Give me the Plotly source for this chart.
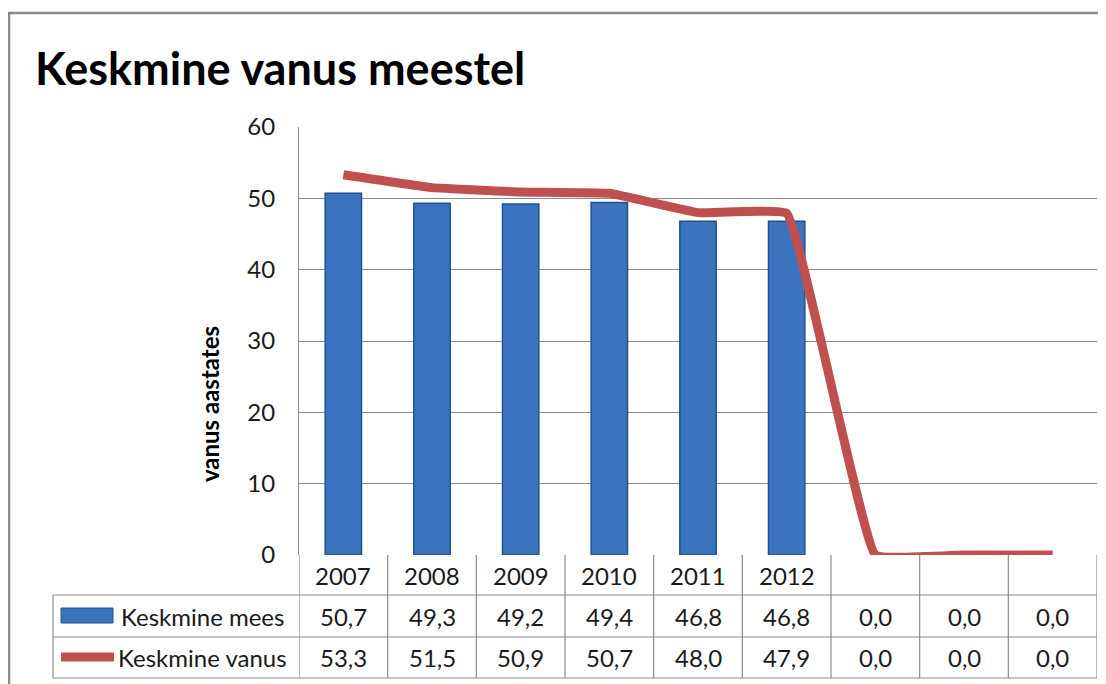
import plotly.graph_objects as go

years = ['2007', '2008', '2009', '2010', '2011', '2012', '', '', '']
keskmine_mees = [50.7, 49.3, 49.2, 49.4, 46.8, 46.8, 0.0, 0.0, 0.0]
keskmine_vanus = [53.3, 51.5, 50.9, 50.7, 48.0, 47.9, 0.0, 0.0, 0.0]
series_names = ['Keskmine mees', 'Keskmine vanus']
y_ticks = [0, 10, 20, 30, 40, 50, 60]

W, H = 1106, 684
OFF = 8  # page body margin offsets the figure
FONT = "Lato"
BAR_COLOR = '#3A74BF'
LINE_COLOR = '#C0504D'
GRID = '#8C8C8C'


def px_x(p):
    return (p - OFF) / W


def px_y(p):
    return 1 - (p - OFF) / H


xs = list(range(len(years)))

fig = go.Figure()
fig.add_trace(go.Bar(
    x=xs, y=keskmine_mees, width=0.41,
    marker=dict(color=BAR_COLOR,
                line=dict(color='#22508C', width=[1.5 if v else 0 for v in keskmine_mees])),
    name=series_names[0],
))
fig.add_trace(go.Scatter(
    x=xs, y=keskmine_vanus, mode='lines',
    line=dict(color=LINE_COLOR, width=9, shape='spline', smoothing=0.25),
    cliponaxis=False, name=series_names[1],
))

# table rows (pixel positions)
row_lines = [555, 595, 637, 678]
row_centers = [(row_lines[i] + row_lines[i + 1]) / 2 for i in range(3)]

shapes = []
# outer chart border
shapes.append(dict(type='rect', xref='paper', yref='paper',
                   x0=px_x(9), x1=1.05, y0=px_y(13), y1=-0.05,
                   line=dict(color='#8A8A8A', width=2.5)))
# horizontal table lines
for yy in row_lines[1:]:
    shapes.append(dict(type='line', xref='paper', yref='paper',
                       x0=px_x(53), x1=px_x(1097), y0=px_y(yy), y1=px_y(yy),
                       line=dict(color=GRID, width=1.2)))
# vertical table lines at category boundaries
for i in range(len(years) + 1):
    shapes.append(dict(type='line', xref='x', yref='paper',
                       x0=i - 0.5, x1=i - 0.5, y0=px_y(row_lines[0]), y1=px_y(row_lines[-1]),
                       line=dict(color=GRID, width=1.2)))
# legend column left edge
shapes.append(dict(type='line', xref='paper', yref='paper',
                   x0=px_x(53), x1=px_x(53), y0=px_y(row_lines[1]), y1=px_y(row_lines[-1]),
                   line=dict(color=GRID, width=1.2)))
# legend keys
shapes.append(dict(type='rect', xref='paper', yref='paper',
                   x0=px_x(61), x1=px_x(113), y0=px_y(608), y1=px_y(623),
                   fillcolor=BAR_COLOR, line=dict(color='#22508C', width=1)))
shapes.append(dict(type='line', xref='paper', yref='paper',
                   x0=px_x(61), x1=px_x(114), y0=px_y(657), y1=px_y(657),
                   line=dict(color=LINE_COLOR, width=9)))

annotations = []
tfont = dict(family=FONT, size=24, color='#1a1a1a')
for i, yr in enumerate(years):
    annotations.append(dict(x=i, y=px_y(row_centers[0]), xref='x', yref='paper',
                            yanchor='middle', text=yr, showarrow=False, font=tfont))
for r, vals in enumerate([keskmine_mees, keskmine_vanus]):
    for i, v in enumerate(vals):
        annotations.append(dict(x=i, y=px_y(row_centers[r + 1]), xref='x', yref='paper',
                                yanchor='middle', text=f"{v:.1f}".replace('.', ','),
                                showarrow=False, font=tfont))
annotations.append(dict(x=px_x(119), y=px_y(row_centers[1]), xref='paper', yref='paper',
                        xanchor='left', yanchor='middle', text=series_names[0],
                        showarrow=False, font=tfont))
annotations.append(dict(x=px_x(116), y=px_y(row_centers[2]), xref='paper', yref='paper',
                        xanchor='left', yanchor='middle', text=series_names[1],
                        showarrow=False, font=tfont))
# axis title
annotations.append(dict(x=px_x(209), y=px_y(404), xref='paper', yref='paper',
                        xanchor='center', yanchor='middle',
                        text='<b>vanus aastates</b>', textangle=-90, showarrow=False,
                        font=dict(family=FONT, size=24, color='#000')))
# chart title
annotations.append(dict(x=px_x(33), y=px_y(68), xref='paper', yref='paper',
                        xanchor='left', yanchor='middle',
                        text='<b>Keskmine vanus meestel</b>', showarrow=False,
                        font=dict(family=FONT, size=45, color='#000')))

fig.update_layout(
    width=W, height=H,
    margin=dict(l=0, r=0, t=0, b=0, pad=0, autoexpand=False),
    paper_bgcolor='white', plot_bgcolor='white',
    showlegend=False,
    font=dict(family=FONT),
    xaxis=dict(domain=[px_x(299), px_x(1097)], range=[-0.5, len(years) - 0.5],
               showticklabels=False, showgrid=False, zeroline=False,
               showline=False, ticks='', automargin=False),
    yaxis=dict(domain=[px_y(555), px_y(127)], range=[0, 60], tickvals=y_ticks,
               showgrid=True, gridcolor=GRID, gridwidth=1.2,
               zeroline=False, showline=True, linecolor=GRID, linewidth=1.2,
               ticks='', ticklabelstandoff=18, automargin=False,
               tickfont=dict(family=FONT, size=24, color='#1a1a1a')),
    shapes=shapes,
    annotations=annotations,
)

fig.write_html("out.html")
